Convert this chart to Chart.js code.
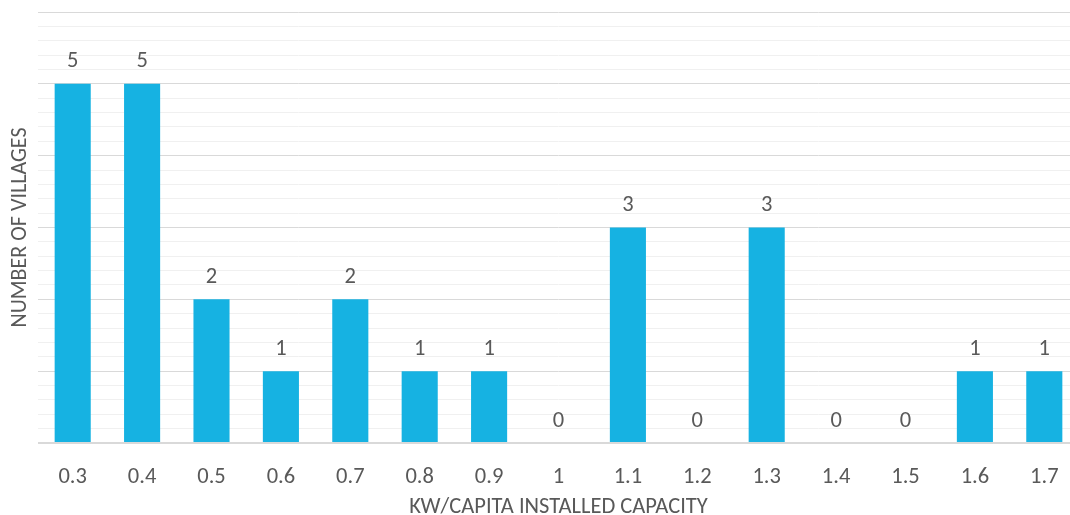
<!DOCTYPE html>
<html>
<head>
<meta charset="utf-8">
<script src="https://cdn.jsdelivr.net/npm/chart.js@4"></script>
<style>
  html, body { margin: 0; padding: 0; background: #fff; overflow: hidden; }
  #wrap { width: 1080px; height: 515px; position: relative; }
</style>
</head>
<body>
<div id="wrap"><canvas id="mainChart"></canvas></div>
<script>
// Data
const categories = ['0.3', '0.4', '0.5', '0.6', '0.7', '0.8', '0.9', '1', '1.1', '1.2', '1.3', '1.4', '1.5', '1.6', '1.7'];
const villages = [5, 5, 2, 1, 2, 1, 1, 0, 3, 0, 3, 0, 0, 1, 1];
const yMin = 0;
const yMax = 6;

const TEXT = '#595959';
const FONT = 'Carlito, Lato, "Liberation Sans", sans-serif';

// value labels over each bar
const barLabels = {
    id: 'barLabels',
    afterDatasetsDraw(chart) {
        const ctx = chart.ctx;
        const meta = chart.getDatasetMeta(0);
        ctx.save();
        ctx.fillStyle = TEXT;
        ctx.font = '22.5px ' + FONT;
        ctx.textAlign = 'center';
        ctx.textBaseline = 'middle';
        meta.data.forEach((bar, i) => {
            ctx.fillText(String(villages[i]), bar.x, bar.y - 22);
        });
        ctx.restore();
    }
};

const ctx = document.getElementById('mainChart').getContext('2d');
window.myChart = new Chart(ctx, {
    type: 'bar',
    data: {
        labels: categories,
        datasets: [{
            data: villages,
            backgroundColor: '#16B2E2',
            borderWidth: 0,
            barPercentage: 0.52,
            categoryPercentage: 1
        }]
    },
    options: {
        responsive: true,
        maintainAspectRatio: false,
        animation: false,
        layout: { padding: { top: 12, right: 1, left: 0, bottom: 0 } },
        plugins: { legend: { display: false }, tooltip: { enabled: false } },
        scales: {
            x: {
                grid: { display: false },
                border: { display: false },
                ticks: { color: TEXT, font: { family: FONT, size: 22.5 }, padding: 12.5, maxRotation: 0 },
                title: {
                    display: true,
                    text: 'KW/CAPITA INSTALLED CAPACITY',
                    color: TEXT,
                    font: { family: FONT, size: 22.5, lineHeight: 0.7 },
                    padding: 0
                },
                afterFit(scale) { scale.height = 72; }
            },
            y: {
                min: yMin,
                max: yMax,
                border: { display: false },
                ticks: { display: false, stepSize: 0.2 },
                grid: {
                    drawTicks: false,
                    color: c => (Math.abs(c.tick.value - Math.round(c.tick.value)) < 1e-6 ? '#d9d9d9' : '#f0f0f0'),
                    lineWidth: c => (c.tick.value === 0 ? 2 : 1)
                },
                title: {
                    display: true,
                    text: 'NUMBER OF VILLAGES',
                    color: TEXT,
                    font: { family: FONT, size: 22, lineHeight: 1 },
                    padding: { top: 9, bottom: 0 }
                },
                afterFit(scale) { scale.width = 38; }
            }
        }
    },
    plugins: [barLabels]
});
</script>
</body>
</html>
